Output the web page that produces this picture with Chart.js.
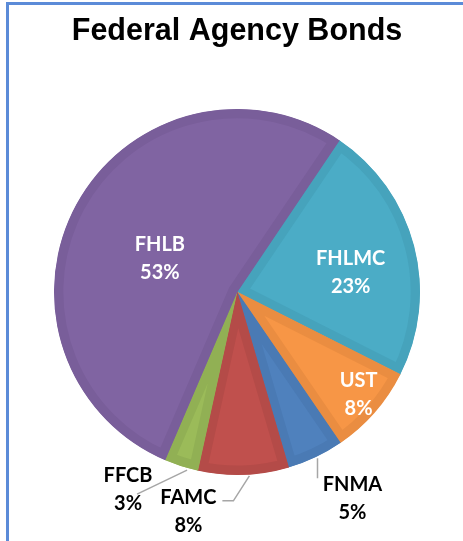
<!DOCTYPE html>
<html>
<head>
<meta charset="utf-8">
<script src="https://cdn.jsdelivr.net/npm/chart.js@4"></script>
<style>
  html, body { margin: 0; padding: 0; background: #fff; }
  #wrap { position: relative; width: 463px; height: 541px; overflow: hidden; }
  #frame { position: absolute; left: 6px; top: 2px; width: 480px; height: 560px;
           border-top: 3px solid #5b8bd8; border-left: 3px solid #5b8bd8; }
  canvas { position: absolute; left: 0; top: 0; }
</style>
</head>
<body>
<div id="wrap">
  <div id="frame"></div>
  <canvas id="bondChart" width="463" height="541"></canvas>
</div>
<script>
// data, clockwise from the FHLB / FHLMC boundary
const agencies = ["FHLMC", "UST", "FNMA", "FAMC", "FFCB", "FHLB"];
const shares = [23, 8, 5, 8, 3, 53];
const percentLabels = ["23%", "8%", "5%", "8%", "3%", "53%"];

const fillColors = ["#4bacc6", "#f79646", "#4f81bd", "#c0504d", "#9bbb59", "#8064a2"];
const edgeColors = ["#46a3bc", "#ea8d41", "#4a7ab4", "#b44b48", "#91b054", "#795e9a"];

// label placement: inside -> fraction of radius (+ small angle nudge in degrees)
// outside -> leader line + text offsets from the slice's outer mid point
const labelPlacement = {
    FHLMC: { inside: true, r: 0.63, turn: 5 },
    UST:   { inside: true, r: 0.87, turn: -1 },
    FHLB:  { inside: true, r: 0.46, turn: -5 },
    FNMA:  { inside: false, line: [[2, 1], [2, 21]], text: [37, 41] },
    FAMC:  { inside: false, line: [[6, 1], [-10, 26], [-21, 26]], text: [-55, 37] },
    FFCB:  { inside: false, line: [[6, 4], [-44, 28]], text: [-53, 23] }
};

const sliceLabels = {
    id: "sliceLabels",
    afterDatasetsDraw(chart) {
        const ctx = chart.ctx;
        const arcs = chart.getDatasetMeta(0).data;
        ctx.save();
        ctx.font = "bold 20px Lato";
        ctx.textAlign = "center";
        ctx.textBaseline = "middle";
        arcs.forEach((arc, i) => {
            const name = agencies[i];
            const place = labelPlacement[name];
            const mid = (arc.startAngle + arc.endAngle) / 2;
            let tx, ty;
            if (place.inside) {
                const a = mid + place.turn * Math.PI / 180;
                const r = arc.outerRadius * place.r;
                tx = arc.x + Math.cos(a) * r;
                ty = arc.y + Math.sin(a) * r;
                ctx.fillStyle = "#ffffff";
            } else {
                const ex = arc.x + Math.cos(mid) * arc.outerRadius;
                const ey = arc.y + Math.sin(mid) * arc.outerRadius;
                ctx.strokeStyle = "#a6a6a6";
                ctx.lineWidth = 1.5;
                ctx.beginPath();
                place.line.forEach((p, k) => {
                    if (k === 0) ctx.moveTo(ex + p[0], ey + p[1]);
                    else ctx.lineTo(ex + p[0], ey + p[1]);
                });
                ctx.stroke();
                tx = ex + place.text[0];
                ty = ey + place.text[1];
                ctx.fillStyle = "#000000";
            }
            ctx.fillText(name, tx, ty - 14);
            ctx.fillText(percentLabels[i], tx, ty + 14);
        });
        ctx.restore();
    }
};

new Chart(document.getElementById("bondChart"), {
    type: "pie",
    data: {
        labels: agencies,
        datasets: [{
            data: shares,
            backgroundColor: fillColors,
            borderColor: edgeColors,
            borderWidth: 9,
            borderAlign: "inner",
            hoverOffset: 0
        }]
    },
    options: {
        responsive: false,
        animation: false,
        rotation: 34,
        layout: { padding: { left: 54, right: 43, top: 0, bottom: 66 } },
        plugins: {
            legend: { display: false },
            tooltip: { enabled: false },
            title: {
                display: true,
                text: "Federal Agency Bonds",
                color: "#000000",
                font: { family: "'Liberation Sans', Arial, sans-serif", size: 30.5, weight: "bold" },
                padding: { top: 13.7, bottom: 58.6 }
            }
        }
    },
    plugins: [sliceLabels]
});
</script>
</body>
</html>
